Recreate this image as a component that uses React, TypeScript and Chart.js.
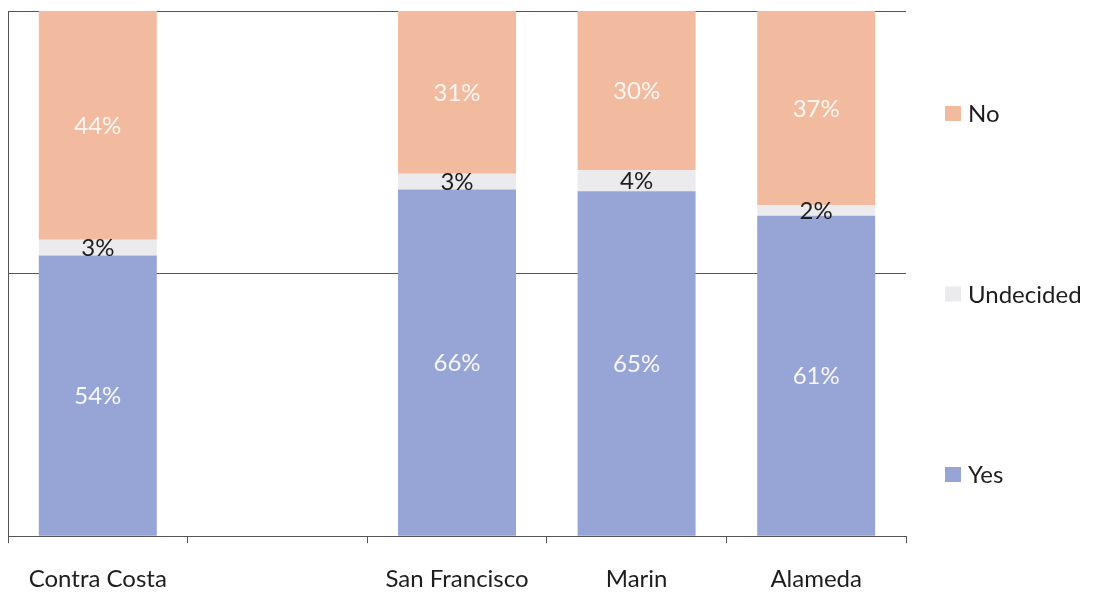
import React, { useEffect, useRef } from "react";
import { Chart, registerables } from "chart.js";

Chart.register(...registerables);

const categories = ["Contra Costa", "", "San Francisco", "Marin", "Alameda"];
const yesValues = [54, null, 66, 65, 61];
const undecidedValues = [3, null, 3, 4, 2];
const noValues = [44, null, 31, 30, 37];
const seriesNames = ["Yes", "Undecided", "No"];
const seriesColors = ["#97a5d6", "#ebebee", "#f2bb9f"];
const labelColors = ["#f7f7fb", "#1e1e1e", "#fbf6f2"];
const yTicks = [0, 50, 100];

const FONT = "Lato, 'Open Sans', sans-serif";

function shares(series: (number | null)[]) {
  return series.map((v, i) => {
    if (v == null) return null;
    const total = (yesValues[i] ?? 0) + (undecidedValues[i] ?? 0) + (noValues[i] ?? 0);
    return (v / total) * 100;
  });
}

const rawSeries = [yesValues, undecidedValues, noValues];

const valueLabelPlugin = {
  id: "valueLabels",
  afterDatasetsDraw(chart: any) {
    const ctx = chart.ctx;
    ctx.save();
    ctx.font = `24px ${FONT}`;
    ctx.textAlign = "center";
    ctx.textBaseline = "middle";
    chart.data.datasets.forEach((ds: any, di: number) => {
      const meta = chart.getDatasetMeta(di);
      meta.data.forEach((el: any, i: number) => {
        const raw = rawSeries[di][i];
        if (raw == null) return;
        const y = (el.y + el.base) / 2;
        ctx.fillStyle = labelColors[di];
        ctx.fillText(`${raw}%`, el.x, y + 1);
      });
    });
    ctx.restore();
  },
};

const sideLegendPlugin = {
  id: "sideLegend",
  afterDraw(chart: any) {
    const ctx = chart.ctx;
    const area = chart.chartArea;
    const ds = chart.data.datasets;
    const n = ds.length;
    const spacing = 180.5;
    const centerY = 294;
    const boxX = area.right + 39;
    ctx.save();
    ctx.font = `24px ${FONT}`;
    ctx.textBaseline = "middle";
    ctx.textAlign = "left";
    for (let k = 0; k < n; k++) {
      const di = n - 1 - k;
      const y = centerY + (k - (n - 1) / 2) * spacing;
      ctx.fillStyle = ds[di].backgroundColor;
      ctx.fillRect(boxX, y - 7.5, 16, 15);
      ctx.fillStyle = "#1e1e1e";
      ctx.fillText(ds[di].label, boxX + 23, y + 1);
    }
    ctx.restore();
  },
};

export default function App() {
  const ref = useRef<HTMLCanvasElement | null>(null);
  useEffect(() => {
    if (!ref.current) return;
    const chart = new Chart(ref.current, {
      type: "bar",
      data: {
        labels: categories,
        datasets: rawSeries.map((s, i) => ({
          label: seriesNames[i],
          data: shares(s),
          backgroundColor: seriesColors[i],
          borderWidth: 0,
          categoryPercentage: 1,
          barPercentage: 0.657,
        })),
      },
      options: {
        animation: false,
        responsive: true,
        maintainAspectRatio: false,
        layout: { padding: { left: 8, top: 11, right: 191, bottom: -24 } },
        plugins: {
          legend: { display: false },
          tooltip: { enabled: false },
        },
        scales: {
          x: {
            stacked: true,
            grid: {
              display: true,
              drawOnChartArea: false,
              drawTicks: true,
              tickLength: 7,
              color: "#555",
              offset: true,
            },
            border: { display: true, color: "#555", width: 1 },
            ticks: {
              color: "#1e1e1e",
              font: { family: FONT, size: 24 },
              padding: 22,
              maxRotation: 0,
              autoSkip: false,
            },
          },
          y: {
            stacked: true,
            min: yTicks[0],
            max: yTicks[yTicks.length - 1],
            afterBuildTicks: (axis: any) => {
              axis.ticks = yTicks.map((v) => ({ value: v }));
            },
            grid: { color: "#555", drawTicks: false, lineWidth: 1 },
            border: { display: true, color: "#555", width: 1 },
            ticks: { display: false },
          },
        },
      },
      plugins: [valueLabelPlugin, sideLegendPlugin],
    });
    return () => chart.destroy();
  }, []);
  return (
    <div style={{ position: "fixed", left: 0, top: 0, width: 1097, height: 592, background: "#fff" }}>
      <canvas ref={ref} />
    </div>
  );
}
